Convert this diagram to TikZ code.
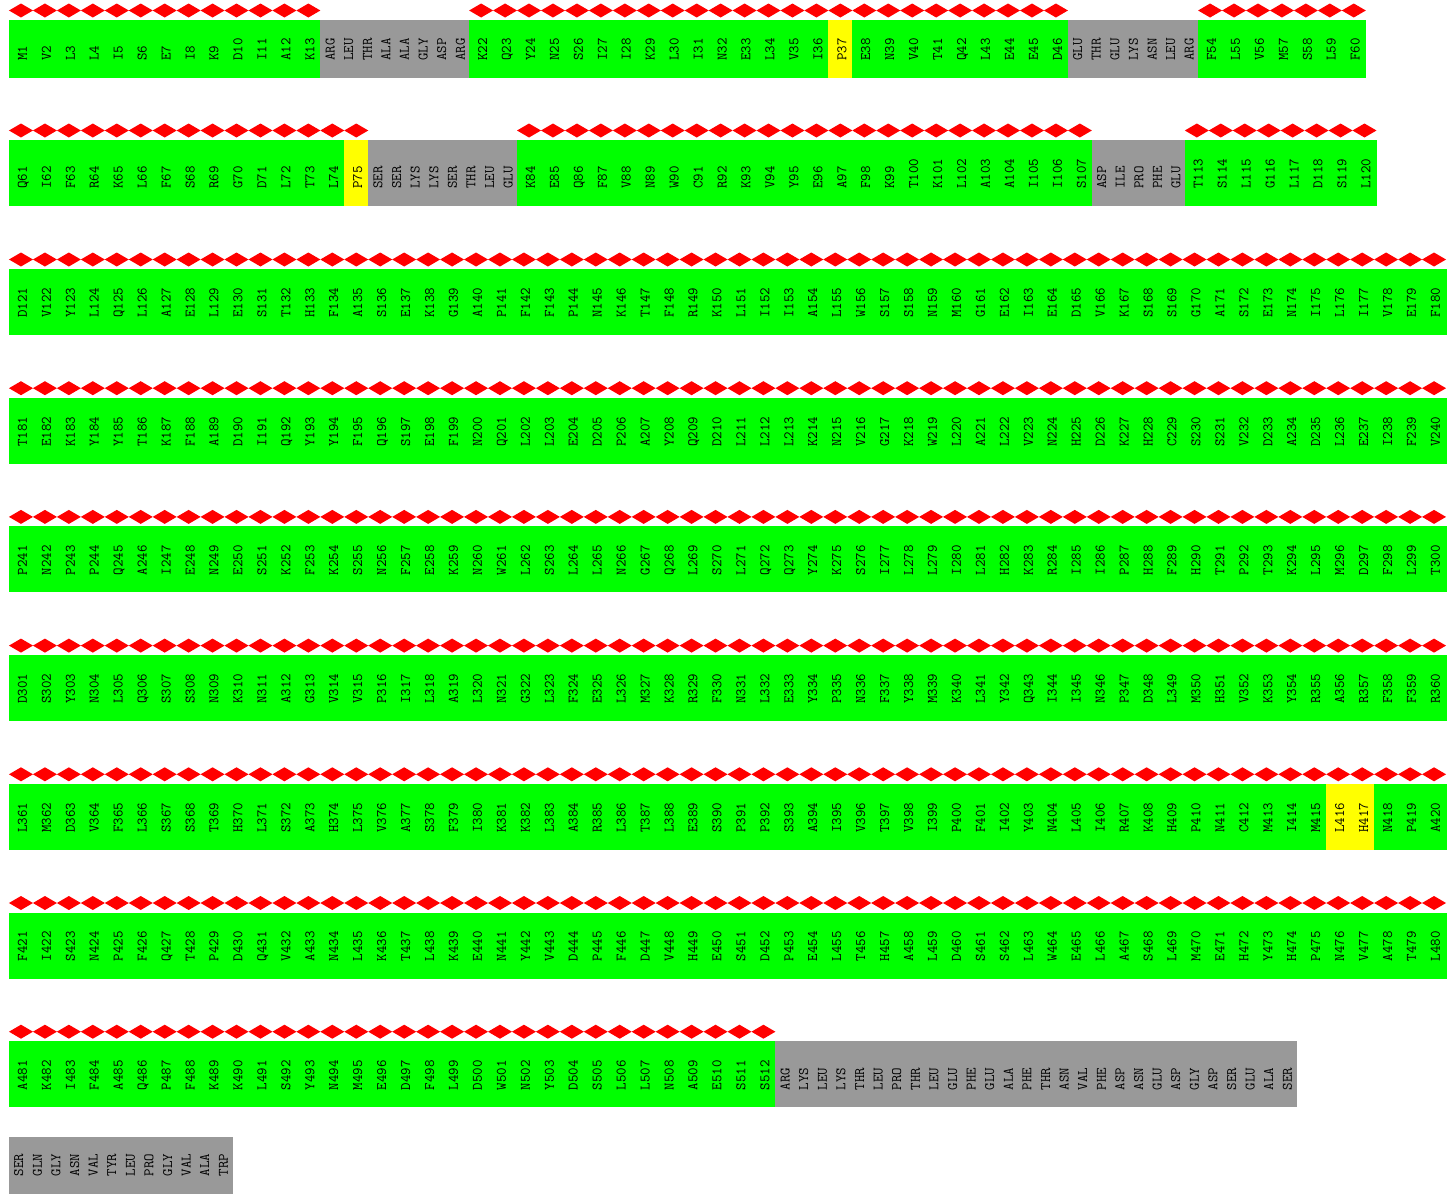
\documentclass[tikz,border=0pt]{standalone}
\begin{document}
\begin{tikzpicture}[x=1pt,y=-1pt]
\definecolor{cgreen}{RGB}{0,255,0}
\definecolor{cyellow}{RGB}{255,255,0}
\definecolor{cgray}{RGB}{153,153,153}
\definecolor{cred}{RGB}{255,0,0}
\useasboundingbox (0,0) rectangle (1454,1194);
\tikzset{lab/.style={rotate=90, anchor=base west, inner sep=0pt,
  font=\fontsize{14.5}{17}\selectfont\ttfamily, text=black}}
\def\cw{23.95}
\def\gw{18.6}
% residue segment: x0, top, height, colour, labels
\newcommand\resseg[5]{%
  \foreach \lab [count=\i] in {#5}{%
    \pgfmathsetmacro\xa{#1+(\i-1)*\cw}%
    \pgfmathsetmacro\xc{\xa+\cw/2}%
    \fill[#4] (\xa,#2) rectangle ++(\cw+0.5,#3);
    \fill[cred] (\xc-12,#2-9.5) -- (\xc,#2-16.5) -- (\xc+12,#2-9.5) -- (\xc,#2-2.5) -- cycle;
    \node[lab] (n-\lab) at (\xc+5.9,#2+#3-17) {\lab};
  }}
% missing segment: x0, top, height, labels, name prefix
\newcommand\grayseg[5]{%
  \foreach \lab [count=\i] in {#4}{%
    \pgfmathsetmacro\xa{#1+(\i-1)*\gw}%
    \pgfmathsetmacro\xc{\xa+\gw/2}%
    \fill[cgray] (\xa,#2) rectangle ++(\gw+0.5,#3);
    \node[lab] (#5-\i) at (\xc+4.9,#2+#3-17) {\lab};
  }}
% Row 1
\resseg{9}{20}{57.7}{cgreen}{M1,V2,L3,L4,I5,S6,E7,I8,K9,D10,I11,A12,K13}
\grayseg{320.35}{20}{57.7}{ARG,LEU,THR,ALA,ALA,GLY,ASP,ARG}{ga}
\resseg{469.15}{20}{57.7}{cgreen}{K22,Q23,Y24,N25,S26,I27,I28,K29,L30,I31,N32,E33,L34,V35,I36}
\resseg{828.4}{20}{57.7}{cyellow}{P37}
\resseg{852.35}{20}{57.7}{cgreen}{E38,N39,V40,T41,Q42,L43,E44,E45,D46}
\grayseg{1067.9}{20}{57.7}{GLU,THR,GLU,LYS,ASN,LEU,ARG}{gb}
\resseg{1198.1}{20}{57.7}{cgreen}{F54,L55,V56,M57,S58,L59,F60}
% Row 2
\resseg{9}{140}{66}{cgreen}{Q61,I62,F63,R64,K65,L66,F67,S68,R69,G70,D71,L72,T73,L74}
\resseg{344.3}{140}{66}{cyellow}{P75}
\grayseg{368.25}{140}{66}{SER,SER,LYS,LYS,SER,THR,LEU,GLU}{gc}
\resseg{517.05}{140}{66}{cgreen}{K84,E85,Q86,F87,V88,N89,W90,C91,R92,K93,V94,Y95,E96,A97,F98,K99,T100,K101,L102,A103,A104,I105,I106,S107}
\grayseg{1091.85}{140}{66}{ASP,ILE,PRO,PHE,GLU}{gd}
\resseg{1184.85}{140}{66}{cgreen}{T113,S114,L115,G116,L117,D118,S119,L120}
% Row 3
\resseg{9}{269}{66}{cgreen}{D121,V122,Y123,L124,Q125,L126,A127,E128,L129,E130,S131,T132,H133,F134,A135,S136,E137,K138,G139,A140,P141,F142,F143,P144,N145,K146,T147,F148,R149,K150,L151,I152,I153,A154,L155,W156,S157,S158,N159,M160,G161,E162,I163,E164,D165,V166,K167,S168,S169,G170,A171,S172,E173,N174,I175,L176,I177,V178,E179,F180}
% Row 4
\resseg{9}{397.7}{66}{cgreen}{T181,E182,K183,Y184,Y185,T186,K187,F188,A189,D190,I191,Q192,Y193,Y194,F195,Q196,S197,E198,F199,N200,Q201,L202,L203,E204,D205,P206,A207,Y208,Q209,D210,L211,L212,L213,K214,N215,V216,G217,K218,W219,L220,A221,L222,V223,N224,H225,D226,K227,H228,C229,S230,S231,V232,D233,A234,D235,L236,E237,I238,F239,V240}
% Row 5
\resseg{9}{526.4}{66}{cgreen}{P241,N242,P243,P244,Q245,A246,I247,E248,N249,E250,S251,K252,F253,K254,S255,N256,F257,E258,K259,N260,W261,L262,S263,L264,L265,N266,G267,Q268,L269,S270,L271,Q272,Q273,Y274,K275,S276,I277,L278,L279,I280,L281,H282,K283,R284,I285,I286,P287,H288,F289,H290,T291,P292,T293,K294,L295,M296,D297,F298,L299,T300}
% Row 6
\resseg{9}{655.1}{66}{cgreen}{D301,S302,Y303,N304,L305,Q306,S307,S308,N309,K310,N311,A312,G313,V314,V315,P316,I317,L318,A319,L320,N321,G322,L323,F324,E325,L326,M327,K328,R329,F330,N331,L332,E333,Y334,P335,N336,F337,Y338,M339,K340,L341,Y342,Q343,I344,I345,N346,P347,D348,L349,M350,H351,V352,K353,Y354,R355,A356,R357,F358,F359,R360}
% Row 7
\resseg{9}{783.8}{66}{cgreen}{L361,M362,D363,V364,F365,L366,S367,S368,T369,H370,L371,S372,A373,H374,L375,V376,A377,S378,F379,I380,K381,K382,L383,A384,R385,L386,T387,L388,E389,S390,P391,P392,S393,A394,I395,V396,T397,V398,I399,P400,F401,I402,Y403,N404,L405,I406,R407,K408,H409,P410,N411,C412,M413,I414,M415}
\resseg{1326.25}{783.8}{66}{cyellow}{L416,H417}
\resseg{1374.15}{783.8}{66}{cgreen}{N418,P419,A420}
% Row 8
\resseg{9}{912.5}{66}{cgreen}{F421,I422,S423,N424,P425,F426,Q427,T428,P429,D430,Q431,V432,A433,N434,L435,K436,T437,L438,K439,E440,N441,Y442,V443,D444,P445,F446,D447,V448,H449,E450,S451,D452,P453,E454,L455,T456,H457,A458,L459,D460,S461,S462,L463,W464,E465,L466,A467,S468,L469,M470,E471,H472,Y473,H474,P475,N476,V477,A478,T479,L480}
% Row 9
\resseg{9}{1041.2}{66}{cgreen}{A481,K482,I483,F484,A485,Q486,P487,F488,K489,K490,L491,S492,Y493,N494,M495,E496,D497,F498,L499,D500,W501,N502,Y503,D504,S505,L506,L507,N508,A509,E510,S511,S512}
\grayseg{775.4}{1041.2}{66}{ARG,LYS,LEU,LYS,THR,LEU,PRO,THR,LEU,GLU,PHE,GLU,ALA,PHE,THR,ASN,VAL,PHE,ASP,ASN,GLU,ASP,GLY,ASP,SER,GLU,ALA,SER}{ge}
% Row 10
\grayseg{9}{1136.5}{57}{SER,GLN,GLY,ASN,VAL,TYR,LEU,PRO,GLY,VAL,ALA,TRP}{gf}
\end{tikzpicture}
\end{document}
